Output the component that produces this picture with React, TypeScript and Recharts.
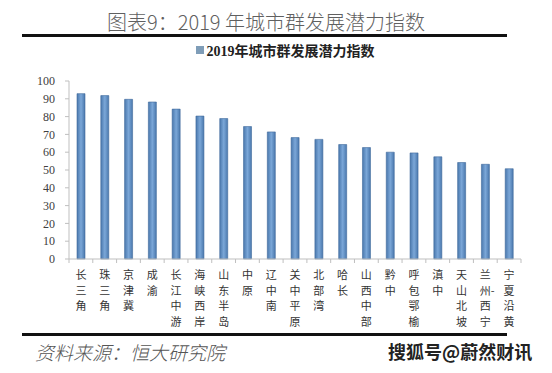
import { Bar, BarChart, Legend, XAxis, YAxis } from "recharts";

const cities = [
  "长三角", "珠三角", "京津冀", "成渝", "长江中游", "海峡西岸", "山东半岛", "中原", "辽中南", "关中平原",
  "北部湾", "哈长", "山西中部", "黔中", "呼包鄂榆", "滇中", "天山北坡", "兰州-西宁", "宁夏沿黄",
];
const potential = [
  92.9, 91.8, 89.7, 88.2, 84.2, 80.3, 78.9, 74.4, 71.4, 68.2,
  67.2, 64.3, 62.6, 60.0, 59.6, 57.4, 54.2, 53.2, 50.7,
];
const yTicks = [0, 10, 20, 30, 40, 50, 60, 70, 80, 90, 100];
const seriesName = "2019年城市群发展潜力指数";

const data = cities.map((city, i) => ({ city, value: potential[i] }));

const W = 552;
const H = 373;
const margin = { top: 61, right: 31, bottom: 34, left: 29 };
const yWidth = 40;
const band = (W - margin.left - margin.right - yWidth) / cities.length;

// split a label into vertical rows, a dash stays with the char before it
function rows(label: string) {
  const out: string[] = [];
  for (const ch of Array.from(label)) {
    if (ch === "-" && out.length) out[out.length - 1] += "-";
    else out.push(ch);
  }
  return out;
}

function CityTick(props: any) {
  const { x, y, payload, index } = props;
  const last = index === cities.length - 1;
  return (
    <g>
      <line x1={x - band / 2} x2={x - band / 2} y1={y} y2={y + 4} stroke="#bfbfbf" />
      {last && <line x1={x + band / 2} x2={x + band / 2} y1={y} y2={y + 4} stroke="#bfbfbf" />}
      {rows(payload.value).map((r, i) => (
        <text
          key={i}
          x={x - 5.5}
          y={y + 20 + i * 15.7}
          fontSize={11}
          fill="#333"
          fontFamily="'Noto Sans CJK SC', sans-serif"
        >
          {r}
        </text>
      ))}
    </g>
  );
}

function LegendBox() {
  return (
    <div
      style={{
        display: "flex",
        alignItems: "center",
        justifyContent: "center",
        fontFamily: "'Liberation Serif', 'Noto Sans CJK SC', serif",
        fontWeight: 700,
        fontSize: 14,
        color: "#222",
        paddingLeft: 18,
      }}
    >
      <span style={{ width: 8, height: 8, background: "#7f9db8", marginRight: 3 }} />
      {seriesName}
    </div>
  );
}

export default function App() {
  return (
    <div
      style={{
        position: "absolute",
        left: 0,
        top: 0,
        width: W,
        height: H,
        background: "#fff",
        overflow: "hidden",
      }}
    >
      <div
        style={{
          position: "absolute",
          left: 0,
          width: W,
          top: 9,
          textAlign: "center",
          paddingRight: 20,
          boxSizing: "border-box",
          fontFamily: "'Noto Sans CJK SC', sans-serif",
          fontWeight: 300,
          fontSize: 20,
          lineHeight: "26px",
          color: "#606060",
        }}
      >
        图表9：2019 年城市群发展潜力指数
      </div>
      <div style={{ position: "absolute", left: 22, top: 34, width: 485, height: 3, background: "#111" }} />

      <BarChart width={W} height={H} data={data} margin={margin}>
        <defs>
          <linearGradient id="barFill" x1="0" x2="1" y1="0" y2="0">
            <stop offset="0%" stopColor="#4a78ad" />
            <stop offset="50%" stopColor="#7ba7d8" />
            <stop offset="100%" stopColor="#4a78ad" />
          </linearGradient>
        </defs>
        <XAxis
          dataKey="city"
          interval={0}
          height={80}
          tickSize={0}
          tickMargin={0}
          tickLine={false}
          axisLine={{ stroke: "#bfbfbf" }}
          tick={<CityTick />}
        />
        <YAxis
          domain={[0, 100]}
          ticks={yTicks}
          interval={0}
          width={yWidth}
          tickSize={4}
          tickMargin={10}
          axisLine={{ stroke: "#bfbfbf" }}
          tickLine={{ stroke: "#bfbfbf" }}
          tick={{ fill: "#404040", fontSize: 12, fontFamily: "'Liberation Serif', serif" }}
        />
        <Legend
          verticalAlign="top"
          content={<LegendBox />}
          wrapperStyle={{ top: 40, left: 0, width: W }}
        />
        <Bar
          dataKey="value"
          name={seriesName}
          fill="url(#barFill)"
          stroke="#3f6a9c"
          strokeWidth={0.6}
          barSize={8}
          isAnimationActive={false}
        />
      </BarChart>

      <div style={{ position: "absolute", left: 22, top: 333, width: 485, height: 3, background: "#111" }} />
      <div
        style={{
          position: "absolute",
          left: 35,
          top: 340,
          fontFamily: "'Noto Sans CJK SC', sans-serif",
          fontStyle: "italic",
          fontWeight: 300,
          fontSize: 19,
          lineHeight: "24px",
          color: "#555",
        }}
      >
        资料来源：恒大研究院
      </div>
      <div
        style={{
          position: "absolute",
          left: 388,
          top: 339,
          fontFamily: "'Noto Sans CJK SC', sans-serif",
          fontWeight: 700,
          fontSize: 18,
          lineHeight: "24px",
          color: "#222",
        }}
      >
        搜狐号@蔚然财讯
      </div>
    </div>
  );
}
